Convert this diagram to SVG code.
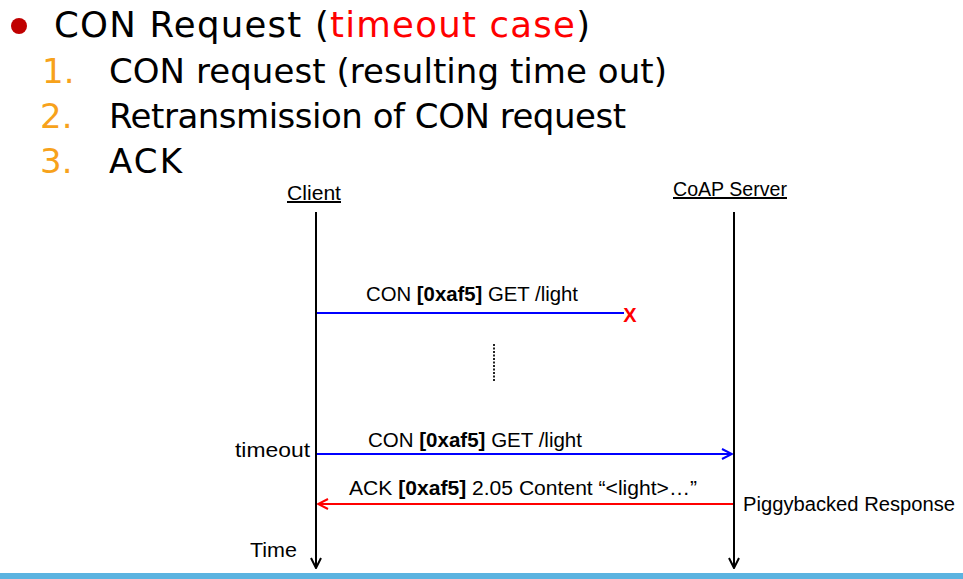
<svg xmlns="http://www.w3.org/2000/svg" width="963" height="579" viewBox="0 0 963 579">
<defs>
<style>
.title{font-family:"DejaVu Sans","Liberation Sans",sans-serif;fill:#000}
.num{font-family:"DejaVu Sans","Liberation Sans",sans-serif;fill:#F7A21B}
.lbl{font-family:"Liberation Sans","DejaVu Sans",sans-serif;font-size:20px;fill:#000}
.b{font-weight:bold}
.life{stroke:#000;stroke-width:2;fill:none}
.blue{stroke:#0000FF;stroke-width:2;fill:none}
.red{stroke:#FF0000;stroke-width:2;fill:none}
</style>
<marker id="ahBlack" viewBox="0 0 12 12" refX="11" refY="6" markerWidth="12" markerHeight="12" markerUnits="userSpaceOnUse" orient="auto">
<path d="M1,1 L11,6 L1,11" fill="none" stroke="#000" stroke-width="2"/>
</marker>
<marker id="ahBlue" viewBox="0 0 12 12" refX="11" refY="6" markerWidth="12" markerHeight="12" markerUnits="userSpaceOnUse" orient="auto">
<path d="M1,1 L11,6 L1,11" fill="none" stroke="#0000FF" stroke-width="2"/>
</marker>
<marker id="ahRed" viewBox="0 0 12 12" refX="11" refY="6" markerWidth="12" markerHeight="12" markerUnits="userSpaceOnUse" orient="auto">
<path d="M1,1 L11,6 L1,11" fill="none" stroke="#FF0000" stroke-width="2"/>
</marker>
</defs>
<rect x="0" y="0" width="963" height="579" fill="#fff"/>

<g id="heading">
<circle cx="19" cy="26" r="8" fill="#C00000"/>
<text class="title" x="54" y="37" font-size="35.5" textLength="536">CON Request (<tspan fill="#FF0000">timeout case</tspan>)</text>
</g>
<g id="list">
<text class="num" x="42" y="83" font-size="34">1.</text>
<text class="title" x="109" y="83" font-size="34" textLength="558">CON request (resulting time out)</text>
<text class="num" x="40" y="128" font-size="34">2.</text>
<text class="title" x="109" y="128" font-size="34" textLength="517">Retransmission of CON request</text>
<text class="num" x="40" y="173" font-size="34">3.</text>
<text class="title" x="109" y="173" font-size="34" textLength="73">ACK</text>
</g>

<g id="client">
<text class="lbl" x="287" y="200" textLength="54" lengthAdjust="spacingAndGlyphs" text-decoration="underline">Client</text>
<line class="life" x1="316" y1="212" x2="316" y2="568" marker-end="url(#ahBlack)"/>
<text class="lbl" x="235" y="457" textLength="75" lengthAdjust="spacingAndGlyphs">timeout</text>
<text class="lbl" x="250" y="557" textLength="47" lengthAdjust="spacingAndGlyphs">Time</text>
</g>

<g id="server">
<text class="lbl" x="673" y="196" textLength="114" lengthAdjust="spacingAndGlyphs" text-decoration="underline">CoAP Server</text>
<line class="life" x1="734" y1="212" x2="734" y2="568" marker-end="url(#ahBlack)"/>
<text class="lbl" x="743" y="511" textLength="212" lengthAdjust="spacingAndGlyphs">Piggybacked Response</text>
</g>

<g id="connectors">
<line class="blue" x1="317" y1="313" x2="624" y2="313"/>
<text x="630" y="322" font-family="Liberation Sans, sans-serif" font-size="20" font-weight="bold" fill="#FF0000" text-anchor="middle">X</text>
<text class="lbl" x="366" y="301" textLength="212" lengthAdjust="spacingAndGlyphs">CON <tspan class="b">[0xaf5]</tspan> GET /light</text>
<line x1="494" y1="344" x2="494" y2="382" stroke="#222" stroke-width="2" stroke-dasharray="2 1.5"/>
<line class="blue" x1="317" y1="454" x2="732" y2="454" marker-end="url(#ahBlue)"/>
<text class="lbl" x="368" y="447" textLength="214" lengthAdjust="spacingAndGlyphs">CON <tspan class="b">[0xaf5]</tspan> GET /light</text>
<line class="red" x1="733" y1="504" x2="318" y2="504" marker-end="url(#ahRed)"/>
<text class="lbl" x="349" y="495" textLength="348" lengthAdjust="spacingAndGlyphs">ACK <tspan class="b">[0xaf5]</tspan> 2.05 Content “&lt;light&gt;…”</text>
</g>

<rect x="0" y="573" width="963" height="6" fill="#5BB3E0"/>
</svg>
